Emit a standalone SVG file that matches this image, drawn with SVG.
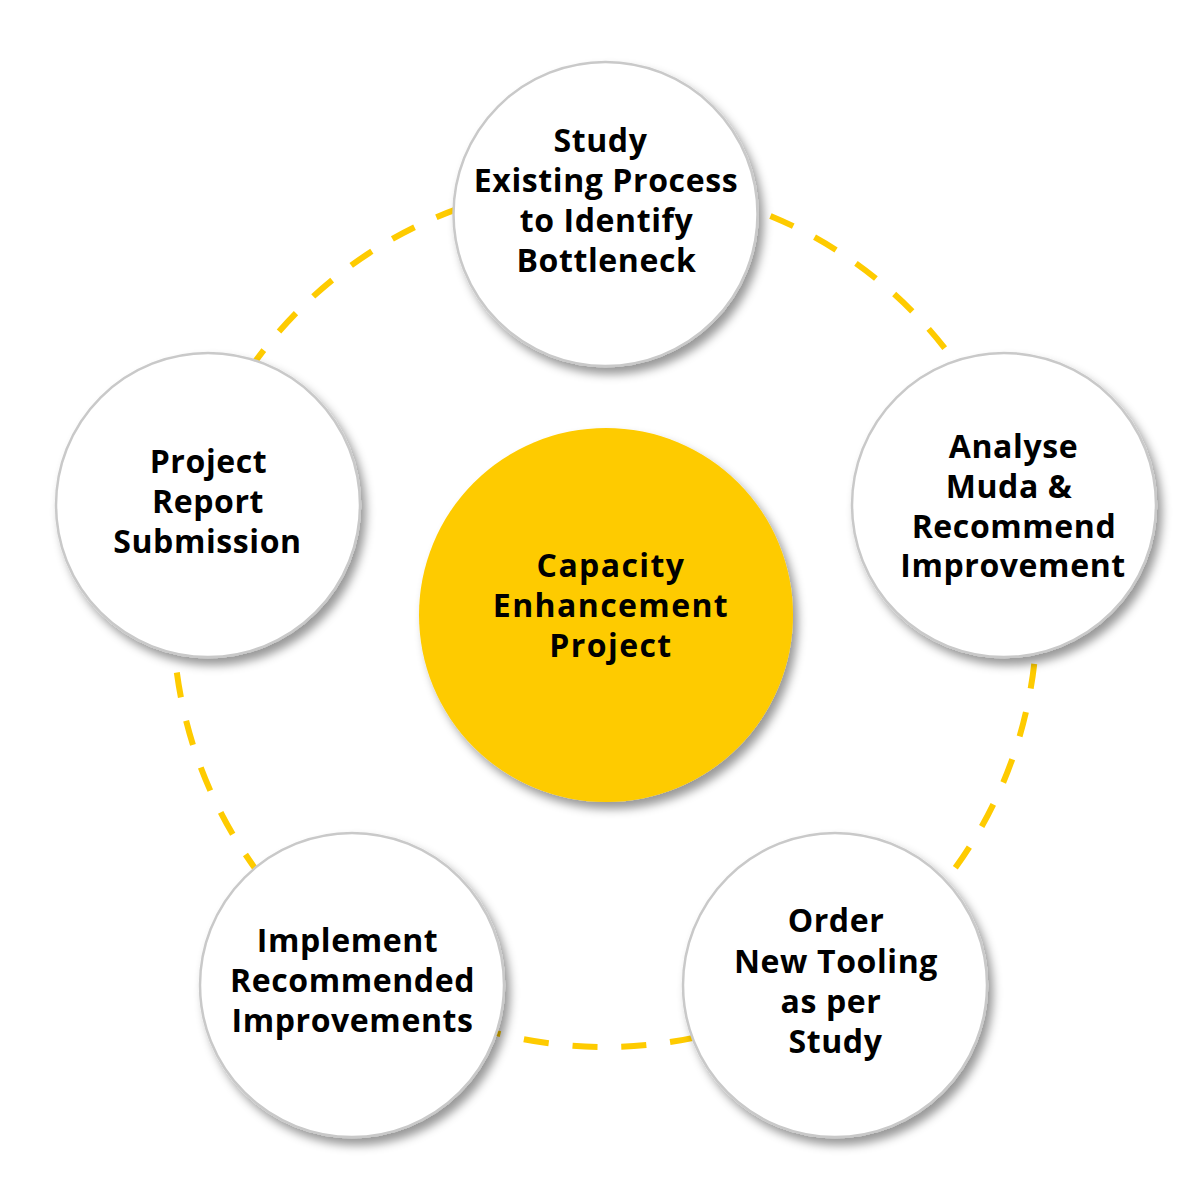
<svg xmlns="http://www.w3.org/2000/svg" width="1200" height="1200" viewBox="0 0 1200 1200">
  <defs>
    <filter id="shadow" x="-20%" y="-20%" width="150%" height="150%">
      <feDropShadow dx="5" dy="7" stdDeviation="5" flood-color="#000000" flood-opacity="0.4"/>
    </filter>
    <style>
      .node { fill: #ffffff; stroke: #c9c9c9; stroke-width: 2.5; filter: url(#shadow); }
      .hub { fill: #fecb00; filter: url(#shadow); }
      .ring { fill: none; stroke: #fecb00; stroke-width: 6; stroke-dasharray: 25 24; }
      text { font-family: "Open Sans", "Liberation Sans", sans-serif; font-weight: 700; fill: #000000; text-anchor: middle; letter-spacing: 0.6px; }
      .t { font-size: 32px; }
      .c { font-size: 32px; letter-spacing: 1.4px; }
    </style>
  </defs>
  <rect width="1200" height="1200" fill="#ffffff"/>
  <g id="connectors">
    <circle class="ring" cx="605" cy="615" r="432"/>
  </g>
  <g id="hub">
    <circle class="hub" cx="606" cy="615" r="187"/>
    <text class="c" x="611" y="577">Capacity</text>
    <text class="c" x="611" y="617">Enhancement</text>
    <text class="c" x="611" y="657">Project</text>
  </g>
  <g id="node-study">
    <circle class="node" cx="605.5" cy="214" r="152"/>
    <text class="t" x="600.5" y="152">Study</text>
    <text class="t" x="606" y="192">Existing Process</text>
    <text class="t" x="606.5" y="232">to Identify</text>
    <text class="t" x="606.5" y="272">Bottleneck</text>
  </g>
  <g id="node-analyse">
    <circle class="node" cx="1004" cy="505" r="152"/>
    <text class="t" x="1013.5" y="458">Analyse</text>
    <text class="t" x="1009" y="498">Muda &amp;</text>
    <text class="t" x="1014" y="538">Recommend</text>
    <text class="t" x="1013" y="577">Improvement</text>
  </g>
  <g id="node-order">
    <circle class="node" cx="835" cy="985" r="152"/>
    <text class="t" x="836" y="932">Order</text>
    <text class="t" x="836" y="973">New Tooling</text>
    <text class="t" x="831" y="1013">as per</text>
    <text class="t" x="835.5" y="1053">Study</text>
  </g>
  <g id="node-implement">
    <circle class="node" cx="352" cy="985" r="152"/>
    <text class="t" x="347.5" y="952">Implement</text>
    <text class="t" x="352.5" y="992">Recommended</text>
    <text class="t" x="352.5" y="1032">Improvements</text>
  </g>
  <g id="node-report">
    <circle class="node" cx="208" cy="505" r="152"/>
    <text class="t" x="208.5" y="473">Project</text>
    <text class="t" x="208" y="513">Report</text>
    <text class="t" x="207.5" y="553">Submission</text>
  </g>
</svg>
